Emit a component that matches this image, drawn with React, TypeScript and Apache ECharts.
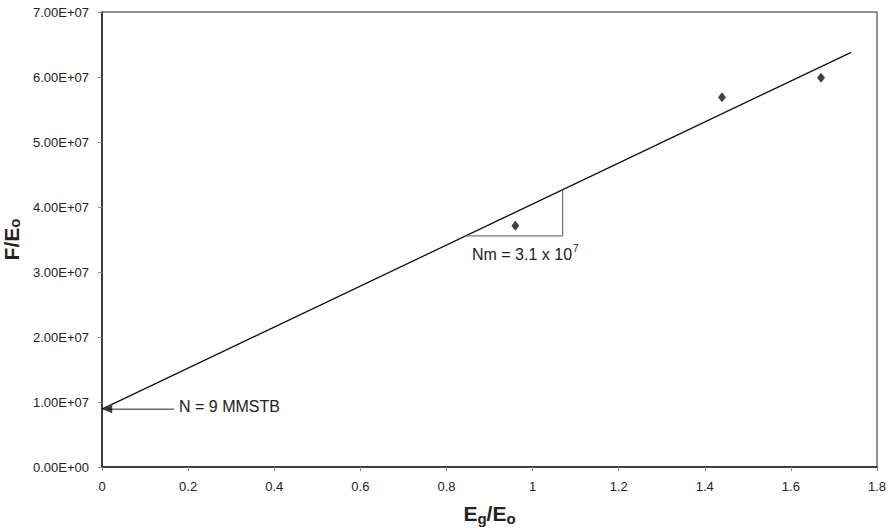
import React, { useEffect, useRef } from "react";
import * as echarts from "echarts";

const pointsX = [0.96, 1.44, 1.67];
const pointsY = [3.71e7, 5.69e7, 5.99e7];
const fitX = [0, 1.74];
const fitY = [8.9e6, 6.38e7];
const triX = [0.843, 1.07];
const triY = [3.555e7, 4.27e7];
const arrowX = [0.167, 0.012];
const arrowY = [8.9e6, 8.9e6];
const xTicks = { min: 0, max: 1.8, interval: 0.2 };
const yTicks = { min: 0, max: 7e7, interval: 1e7 };

const FONT = "'Liberation Sans', Arial, sans-serif";

function fmtExp(v: number): string {
  if (v === 0) return "0.00E+00";
  const e = Math.floor(Math.log10(Math.abs(v)) + 1e-9);
  const m = v / Math.pow(10, e);
  return m.toFixed(2) + "E" + (e >= 0 ? "+" : "-") + String(Math.abs(e)).padStart(2, "0");
}

const nameStyle = (pad: number) => ({
  fontSize: 21,
  fontWeight: "bold",
  color: "#222",
  fontFamily: FONT,
  rich: {
    sub: { fontSize: 15, fontWeight: "bold", color: "#222", fontFamily: FONT, padding: [0, 0, pad, 0] },
  },
});

export default function App() {
  const ref = useRef<HTMLDivElement>(null);
  useEffect(() => {
    if (!ref.current) return;
    const chart = echarts.init(ref.current, null, { renderer: "svg" });
    chart.setOption({
      animation: false,
      backgroundColor: "#fff",
      textStyle: { fontFamily: FONT },
      grid: {
        left: 102,
        right: 12,
        top: 12,
        bottom: 63,
        outerBoundsMode: "none",
        containLabel: false,
        show: true,
        borderColor: "#222",
        borderWidth: 1,
        backgroundColor: "#fff",
      },
      xAxis: {
        type: "value",
        min: xTicks.min,
        max: xTicks.max,
        interval: xTicks.interval,
        name: "E{sub|g}/E{sub|o}",
        nameLocation: "middle",
        nameGap: 36,
        nameTextStyle: nameStyle(-9),
        axisLine: { show: true, lineStyle: { color: "#222", width: 1.5 } },
        axisTick: { show: true, inside: false, length: 4, lineStyle: { color: "#888" } },
        splitLine: { show: false },
        axisLabel: { fontSize: 13, color: "#222", margin: 13, fontFamily: FONT },
      },
      yAxis: {
        type: "value",
        min: yTicks.min,
        max: yTicks.max,
        interval: yTicks.interval,
        name: "F/E{sub|o}",
        nameLocation: "middle",
        nameRotate: 90,
        nameGap: 78,
        nameTextStyle: nameStyle(-6),
        axisLine: { show: true, lineStyle: { color: "#222", width: 1.5 } },
        axisTick: { show: true, inside: false, length: 4, lineStyle: { color: "#888" } },
        splitLine: { show: false },
        axisLabel: { fontSize: 13, color: "#222", margin: 13, fontFamily: FONT, formatter: fmtExp },
      },
      series: [
        {
          type: "line",
          data: fitX.map((x, i) => [x, fitY[i]]),
          showSymbol: false,
          symbol: "none",
          lineStyle: { color: "#111", width: 1.3 },
          z: 2,
        },
        {
          type: "line",
          data: [
            [triX[0], triY[0]],
            [triX[1], triY[0]],
            [triX[1], triY[1]],
          ],
          symbol: "none",
          lineStyle: { color: "#555", width: 1 },
          z: 2,
        },
        {
          type: "line",
          data: arrowX.map((x, i) => [x, arrowY[i]]),
          symbol: "none",
          lineStyle: { color: "#222", width: 1 },
          z: 3,
        },
        {
          type: "scatter",
          data: [[arrowX[1], arrowY[1]]],
          symbol: "triangle",
          symbolSize: [8, 10],
          symbolRotate: 90,
          itemStyle: { color: "#111" },
          z: 4,
        },
        {
          type: "scatter",
          data: pointsX.map((x, i) => [x, pointsY[i]]),
          symbol: "diamond",
          symbolSize: [8, 10],
          itemStyle: { color: "#111" },
          z: 4,
        },
      ],
      graphic: [
        {
          type: "text",
          left: 179,
          top: 398,
          style: { text: "N = 9 MMSTB", fontSize: 16, fill: "#222", fontFamily: FONT },
        },
        {
          type: "text",
          left: 472,
          top: 246,
          style: { text: "Nm = 3.1 x 10", fontSize: 16, fill: "#222", fontFamily: FONT },
        },
        {
          type: "text",
          left: 573,
          top: 243,
          style: { text: "7", fontSize: 10, fill: "#222", fontFamily: FONT },
        },
      ],
    });
    return () => chart.dispose();
  }, []);
  return <div ref={ref} style={{ width: 889, height: 530, position: "absolute", left: 0, top: 0 }} />;
}
